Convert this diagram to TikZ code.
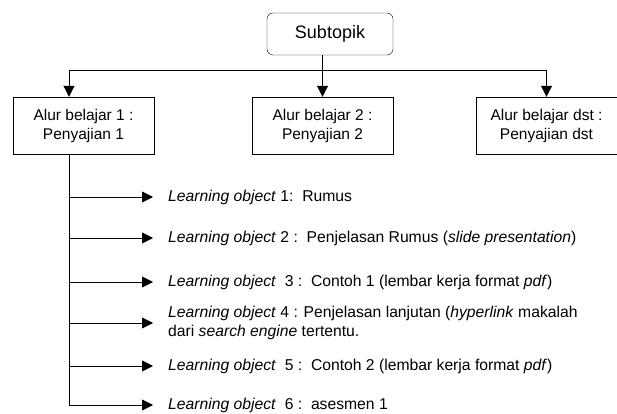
\documentclass[tikz,border=0pt]{standalone}
\usepackage{fontspec}
\setmainfont{Liberation Sans}
\usetikzlibrary{arrows.meta}
\tikzset{
  topbox/.style={draw, rounded corners=6pt, minimum width=126pt, minimum height=42pt,
    inner sep=0pt, font=\fontsize{18}{21}\selectfont},
  pathbox/.style={draw, minimum width=141pt, minimum height=57pt, inner sep=0pt,
    align=center, font=\fontsize{15.5}{19}\selectfont},
  lobj/.style={anchor=west, inner xsep=15pt, inner ysep=0pt, align=left,
    font=\fontsize{15.7}{19}\selectfont},
  link/.style={line width=0.9pt},
  arr/.style={link, -{Triangle[length=11pt,width=11pt]}},
}
\begin{document}
\begin{tikzpicture}[x=1pt,y=-1pt]
\useasboundingbox (0,0) rectangle (617,414);

% top level and the learning paths
\node[topbox] (sub) at (330,34) {Subtopik};
\node[pathbox] (b1) at (83.5,125.5) {Alur belajar 1 :\\Penyajian 1};
\node[pathbox] (b2) at (322.5,125.5) {Alur belajar 2 :\\Penyajian 2};
\node[pathbox] (b3) at (546.5,125.5) {Alur belajar dst :\\Penyajian dst};

\coordinate (c1) at (69,70);
\coordinate (c3) at (546.5,70);
\draw[link] (c1) -- (c3);
\draw[arr] (sub.south -| b2.north) -- (b2.north);
\draw[arr] (c1) -- (c1 |- b1.north);
\draw[arr] (c3) -- (b3.north);

% learning objects of the first path
\node[lobj] (lo1) at (153,197) {\textit{Learning object} 1:~~Rumus};
\node[lobj] (lo2) at (153,238) {\textit{Learning object} 2 :~~Penjelasan Rumus (\textit{slide presentation})};
\node[lobj] (lo3) at (153,282) {\textit{Learning object}~~3 :~~Contoh 1 (lembar kerja format \textit{pdf})};
\node[lobj] (lo4) at (153,323) {\textit{Learning object} 4 : Penjelasan lanjutan (\textit{hyperlink} makalah\\dari \textit{search engine} tertentu.};
\node[lobj] (lo5) at (153,366) {\textit{Learning object}~~5 :~~Contoh 2 (lembar kerja format \textit{pdf})};
\node[lobj] (lo6) at (153,405) {\textit{Learning object}~~6 :~~asesmen 1};

\draw[arr] (c1 |- b1.south) -- (c1 |- lo6.west) -- (lo6.west);
\foreach \n in {lo1,lo2,lo3,lo4,lo5}
  \draw[arr] (c1 |- \n.west) -- (\n.west);
\end{tikzpicture}
\end{document}
